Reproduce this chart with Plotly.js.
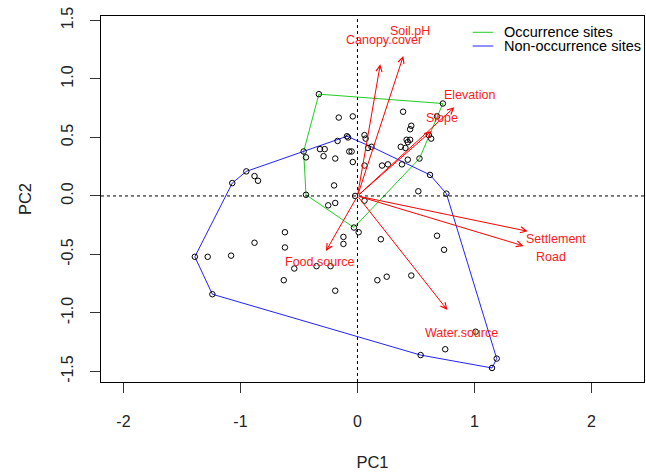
<!DOCTYPE html>
<html>
<head>
<meta charset="utf-8">
<script src="https://cdn.plot.ly/plotly-3.0.1.min.js"></script>
<style>html,body{margin:0;padding:0;background:#fff;}#chart{width:646px;height:475px;}</style>
</head>
<body>
<div id="chart"></div>
<script>
// PCA scores (PC1, PC2) of all sites
var pcX = [-0.33,-0.16,-0.04,-0.09,-0.08,-0.17,0.06,0.07,-0.46,-0.44,-0.32,-0.28,-0.29,-0.19,-0.07,-0.05,-0.04,0.06,-0.20,-0.44,-0.02,-0.25,-0.19,0.06,-0.95,-0.88,-0.85,-1.07,0.39,0.46,0.45,0.68,0.73,0.61,0.63,0.12,0.09,0.42,0.45,0.43,0.37,0.41,0.43,0.53,0.21,0.26,0.38,0.62,0.52,0.76,-0.03,0.01,-0.62,-0.12,-0.12,-0.88,-0.62,-1.39,-1.28,-1.08,-0.54,-0.35,-0.23,-0.63,-0.19,-1.24,0.20,0.68,0.74,0.17,0.25,0.46,1.01,0.75,0.54,1.19,1.15];
var pcY = [0.87,0.67,0.68,0.51,0.50,0.47,0.52,0.49,0.38,0.33,0.40,0.40,0.34,0.32,0.38,0.38,0.29,0.26,0.09,0.01,0.00,-0.08,-0.06,-0.04,0.21,0.17,0.13,0.11,0.72,0.60,0.57,0.68,0.79,0.52,0.49,0.42,0.41,0.48,0.48,0.46,0.42,0.41,0.31,0.32,0.26,0.27,0.27,0.18,0.04,0.02,-0.27,-0.31,-0.31,-0.35,-0.41,-0.40,-0.44,-0.52,-0.52,-0.51,-0.62,-0.60,-0.60,-0.72,-0.81,-0.84,-0.37,-0.34,-0.46,-0.72,-0.69,-0.68,-1.16,-1.31,-1.36,-1.39,-1.47];

// Convex hulls of the two groups
var occHullX = [-0.33,0.73,0.53,-0.03,-0.44,-0.46,-0.33];
var occHullY = [0.87,0.79,0.32,-0.27,0.01,0.38,0.87];
var nonHullX = [-1.39,-1.24,0.54,1.15,1.19,0.76,0.62,0.12,-0.09,-0.46,-0.95,-1.07,-1.39];
var nonHullY = [-0.52,-0.84,-1.36,-1.47,-1.39,0.02,0.18,0.42,0.51,0.38,0.21,0.11,-0.52];

// Variable loadings (arrow tips) and label positions
var varNames = ["Soil.pH","Canopy.cover","Elevation","Slope","Settlement","Road","Water.source","Food.source"];
var loadX = [0.392,0.195,0.828,0.634,1.455,1.420,0.768,-0.269];
var loadY = [1.197,1.125,0.758,0.556,-0.302,-0.427,-0.974,-0.470];
var labelX = [0.449,0.231,0.955,0.724,1.700,1.651,0.890,-0.316];
var labelY = [1.413,1.331,0.863,0.664,-0.365,-0.524,-1.168,-0.564];

// Legend
var groupNames = ["Occurrence sites","Non-occurrence sites"];
var groupColors = ["#22cc22","#2222ff"];

var xTicks = [-2,-1,0,1,2];
var yTicks = [-1.5,-1.0,-0.5,0.0,0.5,1.0,1.5];

var FONT = "Liberation Sans, Arial, sans-serif";

var traces = [
  {x: occHullX, y: occHullY, mode: "lines", type: "scatter", line: {color: groupColors[0], width: 1}, hoverinfo: "skip", showlegend: false},
  {x: nonHullX, y: nonHullY, mode: "lines", type: "scatter", line: {color: groupColors[1], width: 1}, hoverinfo: "skip", showlegend: false},
  {x: pcX, y: pcY, mode: "markers", type: "scatter",
   marker: {symbol: "circle-open", size: 5.5, color: "#000", line: {width: 1, color: "#000"}}, showlegend: false}
];

var annotations = [];
for (var i = 0; i < varNames.length; i++) {
  annotations.push({x: loadX[i], y: loadY[i], xref: "x", yref: "y", ax: 0, ay: 0, axref: "x", ayref: "y",
    text: "", showarrow: true, arrowhead: 5, arrowsize: 1.2, arrowwidth: 1, arrowcolor: "#ff0000", standoff: 0, startstandoff: 0});
  annotations.push({x: labelX[i], y: labelY[i], xref: "x", yref: "y", text: varNames[i], showarrow: false,
    xanchor: "center", yanchor: "middle", font: {family: FONT, size: 12.5, color: "#ff1a1a"}});
}

// manual legend (R style)
var shapes = [
  {type: "line", xref: "x", yref: "paper", x0: 0, x1: 0, y0: 0, y1: 1, line: {color: "#000", width: 1, dash: "dot"}},
  {type: "line", xref: "paper", yref: "y", x0: 0, x1: 1, y0: 0, y1: 0, line: {color: "#000", width: 1, dash: "dot"}}
];
var legY = [0.9555, 0.918];
for (var g = 0; g < groupNames.length; g++) {
  shapes.push({type: "line", xref: "paper", yref: "paper", x0: 0.6845, x1: 0.7225, y0: legY[g], y1: legY[g],
    line: {color: groupColors[g], width: 1}});
  annotations.push({xref: "paper", yref: "paper", x: 0.739, y: legY[g], text: groupNames[g], showarrow: false,
    xanchor: "left", yanchor: "middle", font: {family: FONT, size: 14.5, color: "#000"}});
}

var layout = {
  width: 646, height: 475,
  margin: {l: 101, r: 2, t: 16, b: 93, pad: 0},
  paper_bgcolor: "#fff", plot_bgcolor: "#fff",
  font: {family: FONT, color: "#222"},
  showlegend: false,
  xaxis: {range: [-2.192, 2.449], tickvals: xTicks, ticktext: xTicks.map(String), ticks: "outside", ticklen: 10, tickcolor: "#333",
    showgrid: false, zeroline: false, showline: true, mirror: true, linecolor: "#000", linewidth: 1,
    tickfont: {size: 16, color: "#222"}, ticklabelstandoff: 15,
    title: {text: "PC1", font: {size: 16.5, color: "#222"}, standoff: 27}},
  yaxis: {range: [-1.590, 1.538], tickvals: yTicks, ticktext: yTicks.map(function(v){return v.toFixed(1);}), ticks: "outside", ticklen: 10, tickcolor: "#333",
    tickangle: -90, showgrid: false, zeroline: false, showline: true, mirror: true, linecolor: "#000", linewidth: 1,
    tickfont: {size: 16, color: "#222"}, ticklabelstandoff: 11,
    title: {text: "PC2", font: {size: 16.5, color: "#222"}, standoff: 22}},
  shapes: shapes,
  annotations: annotations
};

Plotly.newPlot("chart", traces, layout, {staticPlot: true, displayModeBar: false});
</script>
</body>
</html>
